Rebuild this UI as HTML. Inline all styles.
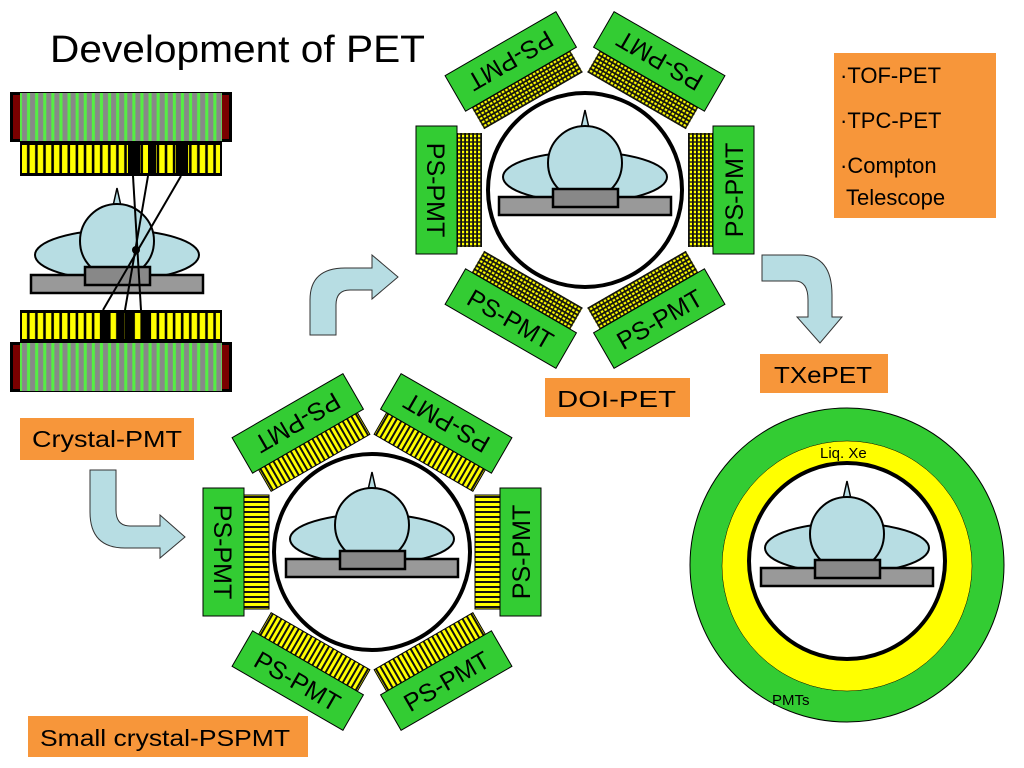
<!DOCTYPE html>
<html><head><meta charset="utf-8"><style>
html,body{margin:0;padding:0;background:#fff;}
svg{display:block;font-family:"Liberation Sans",sans-serif;}
</style></head><body>
<svg width="1024" height="768" viewBox="0 0 1024 768" xmlns="http://www.w3.org/2000/svg">
<defs>
<pattern id="grid" patternUnits="userSpaceOnUse" width="4" height="4"><rect width="4" height="4" fill="#111"/><rect x="0.7" y="0.8" width="2.6" height="2.2" fill="#ffff00"/></pattern>
<pattern id="vstr" patternUnits="userSpaceOnUse" width="5" height="200"><rect width="5" height="200" fill="#111"/><rect x="1" y="0" width="3" height="200" fill="#ffff00"/></pattern>
<pattern id="pmt" patternUnits="userSpaceOnUse" width="8.1" height="60" x="20"><rect width="8.1" height="60" fill="#55ee44"/><rect x="2" width="5" height="60" fill="#888"/></pattern>
<pattern id="ybar" patternUnits="userSpaceOnUse" width="8.1" height="60" x="20"><rect width="8.1" height="60" fill="#000"/><rect x="1.5" width="5.5" height="60" fill="#ffff00"/></pattern>
<g id="patient">
<ellipse cx="0" cy="-13" rx="82" ry="25" fill="#b7dde3" stroke="#000" stroke-width="2"/>
<path d="M-4,-62 L0,-80 L4,-62 Z" fill="#b7dde3" stroke="#000" stroke-width="1.5"/>
<circle cx="0" cy="-27" r="37" fill="#b7dde3" stroke="#000" stroke-width="2"/>
<rect x="-86" y="7" width="172" height="18" fill="#999" stroke="#000" stroke-width="2.5"/>
<rect x="-32" y="-1" width="65" height="18" fill="#888" stroke="#000" stroke-width="2.5"/>
</g>
</defs>

<text x="50" y="62" font-size="38" fill="#000" textLength="375" lengthAdjust="spacingAndGlyphs">Development of PET</text>

<g>
<rect x="10" y="92" width="222" height="50" fill="#000"/>
<rect x="13" y="95" width="7" height="44" fill="#7a0000"/>
<rect x="222" y="95" width="7" height="44" fill="#7a0000"/>
<rect x="20" y="93" width="202" height="48" fill="url(#pmt)"/>
<rect x="20" y="142" width="202" height="34" fill="#000"/>
<rect x="22" y="145" width="198" height="28" fill="url(#ybar)"/>
<rect x="128" y="144" width="12" height="31" fill="#000"/>
<rect x="148" y="144" width="8" height="31" fill="#000"/>
<rect x="176" y="144" width="12" height="31" fill="#000"/>
<rect x="20" y="310" width="202" height="32" fill="#000"/>
<rect x="22" y="313" width="198" height="26" fill="url(#ybar)"/>
<rect x="100" y="312" width="10" height="29" fill="#000"/>
<rect x="118" y="312" width="6" height="29" fill="#000"/>
<rect x="126" y="312" width="8" height="29" fill="#000"/>
<rect x="142" y="312" width="8" height="29" fill="#000"/>
<rect x="10" y="342" width="222" height="50" fill="#000"/>
<rect x="13" y="345" width="7" height="44" fill="#7a0000"/>
<rect x="222" y="345" width="7" height="44" fill="#7a0000"/>
<rect x="20" y="343" width="202" height="48" fill="url(#pmt)"/>
<use href="#patient" transform="translate(117,268)"/>
<g stroke="#000" stroke-width="2">
<line x1="133" y1="176" x2="141" y2="310"/>
<line x1="148" y1="176" x2="125" y2="310"/>
<line x1="181" y1="176" x2="103" y2="310"/>
</g>
<circle cx="136" cy="250" r="4" fill="#000"/>
</g>

<g transform="translate(585,190)">
<circle r="97" fill="#fff" stroke="#000" stroke-width="4"/>
<use href="#patient"/>
<g transform="rotate(30)"><rect x="-57" y="103" width="114" height="25" fill="url(#grid)"/><rect x="-64" y="128" width="128" height="41" fill="#33cc33" stroke="#000" stroke-width="1"/><text x="0" y="158" font-size="25" text-anchor="middle">PS-PMT</text></g>
<g transform="rotate(-30)"><rect x="-57" y="103" width="114" height="25" fill="url(#grid)"/><rect x="-64" y="128" width="128" height="41" fill="#33cc33" stroke="#000" stroke-width="1"/><text x="0" y="158" font-size="25" text-anchor="middle">PS-PMT</text></g>
<g transform="rotate(-90)"><rect x="-57" y="103" width="114" height="25" fill="url(#grid)"/><rect x="-64" y="128" width="128" height="41" fill="#33cc33" stroke="#000" stroke-width="1"/><text x="0" y="158" font-size="25" text-anchor="middle">PS-PMT</text></g>
<g transform="rotate(90)"><rect x="-57" y="103" width="114" height="25" fill="url(#grid)"/><rect x="-64" y="128" width="128" height="41" fill="#33cc33" stroke="#000" stroke-width="1"/><text x="0" y="158" font-size="25" text-anchor="middle">PS-PMT</text></g>
<g transform="rotate(150)"><rect x="-57" y="103" width="114" height="25" fill="url(#grid)"/><rect x="-64" y="128" width="128" height="41" fill="#33cc33" stroke="#000" stroke-width="1"/><text x="0" y="158" font-size="25" text-anchor="middle">PS-PMT</text></g>
<g transform="rotate(210)"><rect x="-57" y="103" width="114" height="25" fill="url(#grid)"/><rect x="-64" y="128" width="128" height="41" fill="#33cc33" stroke="#000" stroke-width="1"/><text x="0" y="158" font-size="25" text-anchor="middle">PS-PMT</text></g>
</g>

<g transform="translate(372,552)">
<circle r="98" fill="#fff" stroke="#000" stroke-width="4"/>
<use href="#patient"/>
<g transform="rotate(30)"><rect x="-57" y="103" width="114" height="25" fill="url(#vstr)" stroke="#000"/><rect x="-64" y="128" width="128" height="41" fill="#33cc33" stroke="#000" stroke-width="1"/><text x="0" y="158" font-size="25" text-anchor="middle">PS-PMT</text></g>
<g transform="rotate(-30)"><rect x="-57" y="103" width="114" height="25" fill="url(#vstr)" stroke="#000"/><rect x="-64" y="128" width="128" height="41" fill="#33cc33" stroke="#000" stroke-width="1"/><text x="0" y="158" font-size="25" text-anchor="middle">PS-PMT</text></g>
<g transform="rotate(-90)"><rect x="-57" y="103" width="114" height="25" fill="url(#vstr)" stroke="#000"/><rect x="-64" y="128" width="128" height="41" fill="#33cc33" stroke="#000" stroke-width="1"/><text x="0" y="158" font-size="25" text-anchor="middle">PS-PMT</text></g>
<g transform="rotate(90)"><rect x="-57" y="103" width="114" height="25" fill="url(#vstr)" stroke="#000"/><rect x="-64" y="128" width="128" height="41" fill="#33cc33" stroke="#000" stroke-width="1"/><text x="0" y="158" font-size="25" text-anchor="middle">PS-PMT</text></g>
<g transform="rotate(150)"><rect x="-57" y="103" width="114" height="25" fill="url(#vstr)" stroke="#000"/><rect x="-64" y="128" width="128" height="41" fill="#33cc33" stroke="#000" stroke-width="1"/><text x="0" y="158" font-size="25" text-anchor="middle">PS-PMT</text></g>
<g transform="rotate(210)"><rect x="-57" y="103" width="114" height="25" fill="url(#vstr)" stroke="#000"/><rect x="-64" y="128" width="128" height="41" fill="#33cc33" stroke="#000" stroke-width="1"/><text x="0" y="158" font-size="25" text-anchor="middle">PS-PMT</text></g>
</g>

<circle cx="847" cy="565" r="157" fill="#33cc33" stroke="#000" stroke-width="1"/>
<circle cx="847" cy="566" r="125" fill="#ffff00" stroke="#000" stroke-width="0.5"/>
<circle cx="847" cy="561" r="98" fill="#fff" stroke="#000" stroke-width="4"/>
<use href="#patient" transform="translate(847,561)"/>
<text x="820" y="458" font-size="15">Liq. Xe</text>
<text x="772" y="705" font-size="15">PMTs</text>

<g fill="#b7dde3" stroke="#333" stroke-width="1">
<path d="M310,335 L310,300 Q310,268 345,268 L372,268 L372,255 L398,277 L372,299 L372,290 L350,290 Q336,290 336,305 L336,335 Z"/>
<path d="M762,255 L800,255 Q832,255 832,295 L832,317 L842,317 L820,343 L797,317 L808,317 L808,300 Q808,281 795,281 L762,281 Z"/>
<path d="M90,470 L116,470 L116,510 Q116,526 130,526 L160,526 L160,515 L185,537 L160,558 L160,548 L125,548 Q90,548 90,512 Z"/>
</g>

<g fill="#f7963a">
<rect x="20" y="418" width="174" height="42"/>
<rect x="28" y="716" width="280" height="41"/>
<rect x="545" y="378" width="145" height="39"/>
<rect x="760" y="354" width="128" height="39"/>
<rect x="834" y="53" width="162" height="165"/>
</g>
<g font-size="23" fill="#000">
<text x="32" y="447" textLength="150" lengthAdjust="spacingAndGlyphs">Crystal-PMT</text>
<text x="40" y="746" textLength="250" lengthAdjust="spacingAndGlyphs">Small crystal-PSPMT</text>
<text x="557" y="407" textLength="119" lengthAdjust="spacingAndGlyphs">DOI-PET</text>
<text x="774" y="383" textLength="98" lengthAdjust="spacingAndGlyphs">TXePET</text>
</g>
<g font-size="22" fill="#000">
<text x="840" y="83">·TOF-PET</text>
<text x="840" y="128">·TPC-PET</text>
<text x="840" y="173">·Compton</text>
<text x="846" y="205">Telescope</text>
</g>
</svg>
</body></html>
